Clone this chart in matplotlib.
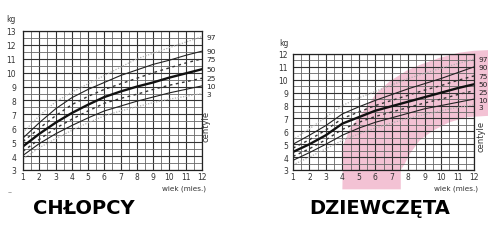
import numpy as np
import matplotlib
matplotlib.use("Agg")
import matplotlib.pyplot as plt
from matplotlib.patches import Polygon

# dane (masa ciała w kg, miesiące 1-12)
months = np.arange(1, 13)
centiles = ["97", "90", "75", "50", "25", "10", "3"]

boys_p97 = [5.7, 6.9, 7.9, 8.6, 9.2, 9.8, 10.4, 11.0, 11.4, 11.8, 12.2, 12.6]
boys_p90 = [5.3, 6.4, 7.4, 8.2, 8.8, 9.3, 9.8, 10.2, 10.6, 10.9, 11.25, 11.55]
boys_p75 = [5.05, 6.0, 6.9, 7.7, 8.3, 8.8, 9.2, 9.6, 10.0, 10.35, 10.7, 11.0]
boys_p50 = [4.7, 5.6, 6.4, 7.1, 7.7, 8.25, 8.65, 9.0, 9.3, 9.65, 9.95, 10.25]
boys_p25 = [4.35, 5.2, 6.0, 6.65, 7.25, 7.8, 8.15, 8.45, 8.8, 9.1, 9.35, 9.6]
boys_p10 = [4.05, 4.9, 5.6, 6.2, 6.75, 7.25, 7.6, 7.95, 8.25, 8.55, 8.8, 9.05]
boys_p3 = [3.8, 4.6, 5.25, 5.85, 6.4, 6.9, 7.25, 7.55, 7.85, 8.1, 8.3, 8.5]

girls_p97 = [5.35, 6.2, 7.1, 8.0, 8.6, 9.1, 9.6, 10.1, 10.5, 10.9, 11.25, 11.6]
girls_p90 = [5.0, 5.7, 6.45, 7.35, 7.9, 8.4, 8.85, 9.3, 9.7, 10.1, 10.55, 11.0]
girls_p75 = [4.7, 5.35, 6.1, 7.0, 7.5, 8.0, 8.4, 8.8, 9.2, 9.55, 9.95, 10.3]
girls_p50 = [4.4, 5.0, 5.7, 6.6, 7.1, 7.6, 7.95, 8.3, 8.65, 9.0, 9.35, 9.65]
girls_p25 = [4.05, 4.65, 5.35, 6.15, 6.7, 7.15, 7.5, 7.85, 8.2, 8.5, 8.85, 9.15]
girls_p10 = [3.75, 4.35, 5.0, 5.7, 6.25, 6.7, 7.05, 7.4, 7.75, 8.0, 8.25, 8.5]
girls_p3 = [3.4, 4.0, 4.65, 5.3, 5.8, 6.25, 6.65, 7.0, 7.3, 7.6, 7.85, 8.05]

boys = [boys_p97, boys_p90, boys_p75, boys_p50, boys_p25, boys_p10, boys_p3]
girls = [girls_p97, girls_p90, girls_p75, girls_p50, girls_p25, girls_p10, girls_p3]

# styl linii dla kolejnych centyli
styles = [
    dict(color="#b0b0b0", lw=0.9, ls=(0, (1, 1.2))),
    dict(color="#222222", lw=0.8, ls="-"),
    dict(color="#333333", lw=1.0, ls=(0, (2, 2.5))),
    dict(color="#111111", lw=1.7, ls="-"),
    dict(color="#333333", lw=1.0, ls=(0, (2, 2.5))),
    dict(color="#222222", lw=0.8, ls="-"),
    dict(color="#b0b0b0", lw=0.9, ls=(0, (1, 1.2))),
]

# różowe tło na wykresie dziewczynek (kształt dekoracyjny)
pink_outer = [(4.0, 1.5), (4.05, 4.9), (4.45, 6.2), (5.3, 7.6), (6.1, 9.0),
              (6.9, 9.9), (7.9, 10.7), (8.7, 11.15), (9.9, 11.7), (11.1, 12.1),
              (12.0, 12.25), (12.85, 12.3)]
pink_inner = [(12.85, 7.2), (11.55, 7.1), (10.5, 6.7), (9.5, 6.05), (8.7, 5.3),
              (8.1, 4.25), (7.8, 3.5), (7.55, 3.0), (7.55, 1.5)]

W, H = 488, 253
fig = plt.figure(figsize=(W / 100, H / 100), dpi=100)


def spread(vals, gap):
    # rozsuń etykiety centyli, żeby na siebie nie nachodziły
    out = list(vals)
    for i in range(1, len(out)):
        if out[i - 1] - out[i] < gap:
            out[i] = out[i - 1] - gap
    return out


def chart(rect, series, ymin, ymax, ypad, lab_size, gap):
    ax = fig.add_axes(rect)
    ax.set_xlim(1, 12)
    ax.set_ylim(ymin, ymax)
    ax.set_xticks(months)
    ax.set_yticks(np.arange(ymin, ymax + 1))
    ax.set_xticks(np.arange(1.5, 12, 1), minor=True)
    ax.set_yticks(np.arange(ymin + 0.5, ymax, 1), minor=True)
    ax.set_axisbelow(True)
    ax.grid(which="major", color="#333333", lw=0.8)
    ax.grid(which="minor", color="#666666", lw=0.6)
    ax.tick_params(which="both", length=0, labelsize=5.5, colors="#333333")
    ax.tick_params(axis="y", pad=ypad)
    ax.tick_params(axis="x", pad=1.5)
    for s in ax.spines.values():
        s.set_color("#222222")
        s.set_linewidth(0.9)
    for vals, st in zip(series, styles):
        ax.plot(months, vals, **st)
    ends = spread([v[-1] for v in series], gap)
    for name, y in zip(centiles, ends):
        ax.text(12.25, y, name, fontsize=lab_size, va="center",
                ha="left", color="#222222", clip_on=False)
    return ax


ax1 = chart([23 / W, 1 - 171 / H, 179 / W, 139 / H], boys, 3, 13, 5, 5.3, 0.55)
ax1.text(-0.07, 1.09, "kg", transform=ax1.transAxes, fontsize=5.5,
         ha="center", va="center", color="#333333")
ax1.text(1.02, -0.13, "wiek (mies.)", transform=ax1.transAxes, fontsize=5.2,
         ha="right", va="center", color="#333333")
ax1.text(1.02, 0.32, "centyle", transform=ax1.transAxes, fontsize=6,
         rotation=90, ha="center", va="center", color="#333333")
ax1.text(-0.07, -0.15, "--", transform=ax1.transAxes, fontsize=5,
         ha="center", va="center", color="#777777")

ax2 = chart([293 / W, 1 - 171 / H, 181 / W, 116 / H], girls, 3, 12, 3.5, 5.3, 0.6)
ax2.add_patch(Polygon(pink_outer + pink_inner, closed=True, facecolor="#f3c2d4",
                      edgecolor="none", zorder=0.2, clip_on=False))
ax2.text(-0.05, 1.1, "kg", transform=ax2.transAxes, fontsize=5.5,
         ha="center", va="center", color="#333333")
ax2.text(1.02, -0.15, "wiek (mies.)", transform=ax2.transAxes, fontsize=5.2,
         ha="right", va="center", color="#333333")
ax2.text(1.04, 0.3, "centyle", transform=ax2.transAxes, fontsize=6,
         rotation=90, ha="center", va="center", color="#333333")

fig.text(84 / W, 1 - 209 / H, "CHŁOPCY", fontsize=14, fontweight="bold",
         ha="center", va="center", color="black")
fig.text(380 / W, 1 - 209 / H, "DZIEWCZĘTA", fontsize=14, fontweight="bold",
         ha="center", va="center", color="black")

fig.savefig("out.png", dpi=100)
